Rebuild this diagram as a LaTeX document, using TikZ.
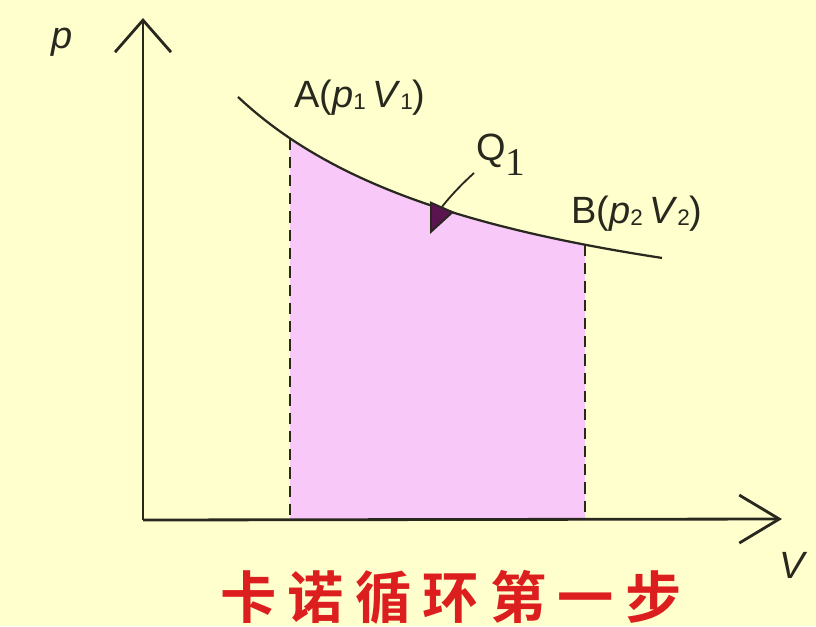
\documentclass[tikz,border=0pt]{standalone}
\usepackage{fontspec}
\setmainfont{Liberation Sans}
\newfontfamily\cjk[LetterSpace=20]{Noto Sans CJK SC Bold}
\newfontfamily\serifnum{Liberation Serif}
\usetikzlibrary{arrows.meta}
\definecolor{bgyellow}{RGB}{255,255,206}
\definecolor{workfill}{RGB}{248,200,248}
\definecolor{axisline}{RGB}{40,40,30}
\definecolor{heatarrow}{RGB}{90,20,80}
\definecolor{titlered}{RGB}{220,30,30}
\newcommand{\sub}[1]{\raisebox{-0.1ex}{\fontsize{16}{16}\selectfont #1}}

\begin{document}
\begin{tikzpicture}[x=0.025cm, y=-0.025cm,
      declare function={isoth(\x)=367.3-778.53/((\x+50)/100);},
      axis/.style={draw=axisline, line width=2pt},
      curve/.style={draw=axisline, line width=1.6pt},
      guide/.style={draw=axisline, line width=1.2pt, dash pattern=on 8pt off 5pt},
      lab/.style={font=\fontsize{27}{30}\selectfont, inner sep=0pt, text=axisline}
    ]
    \fill[bgyellow] (0,0) rectangle (816,626);
    \useasboundingbox (0,0) rectangle (816,626);
    % work area under the isotherm
    \fill[workfill] (290,520) -- plot[domain=290:585, samples=40] (\x,{isoth(\x)})
      -- (585,520) -- cycle;
    \draw[curve] plot[domain=238:662, samples=60] (\x,{isoth(\x)});
    \draw[guide] (290,{isoth(290)}) -- (290,520);
    \draw[guide] (585,{isoth(585)}) -- (585,520);
    % axes
    \coordinate (O) at (143,520);
    \coordinate (ytip) at (143,18);
    \coordinate (xtip) at (782,519);
    \draw[axis, -{Straight Barb[length=8mm, width=14mm, line width=2pt]}] (O) -- (ytip);
    \draw[axis, -{Straight Barb[length=10mm, width=12mm, line width=2pt]}] (O) -- (xtip);
    \node[lab] (plab) at (62,42) {\textit{p}};
    \node[lab] (vlab) at (794,565) {\textit{V}};
    % states
    \node[lab, anchor=west] (A) at (294,98)
      {A(\textit{p}\sub{1}\,\textit{V}\sub{1})};
    \node[lab, anchor=west] (B) at (571,214)
      {B(\textit{p}\sub{2}\,\textit{V}\sub{2})};
    % heat in
    \node[lab, anchor=west] (Q1) at (476,155)
      {Q\raisebox{-0.75ex}{\serifnum\fontsize{28}{28}\selectfont 1}};
    \coordinate (qtip) at (430,234);
    \draw[line width=1.3pt, draw=axisline,
          -{Triangle[length=7.5mm, width=6.5mm, fill=heatarrow]}]
      (474,173) to[bend right=12] (qtip);
    \node[font=\cjk\fontsize{40}{44}\selectfont, text=titlered, inner sep=0pt]
      (title) at (451,597) {卡诺循环第一步};
  \end{tikzpicture}
\end{document}
